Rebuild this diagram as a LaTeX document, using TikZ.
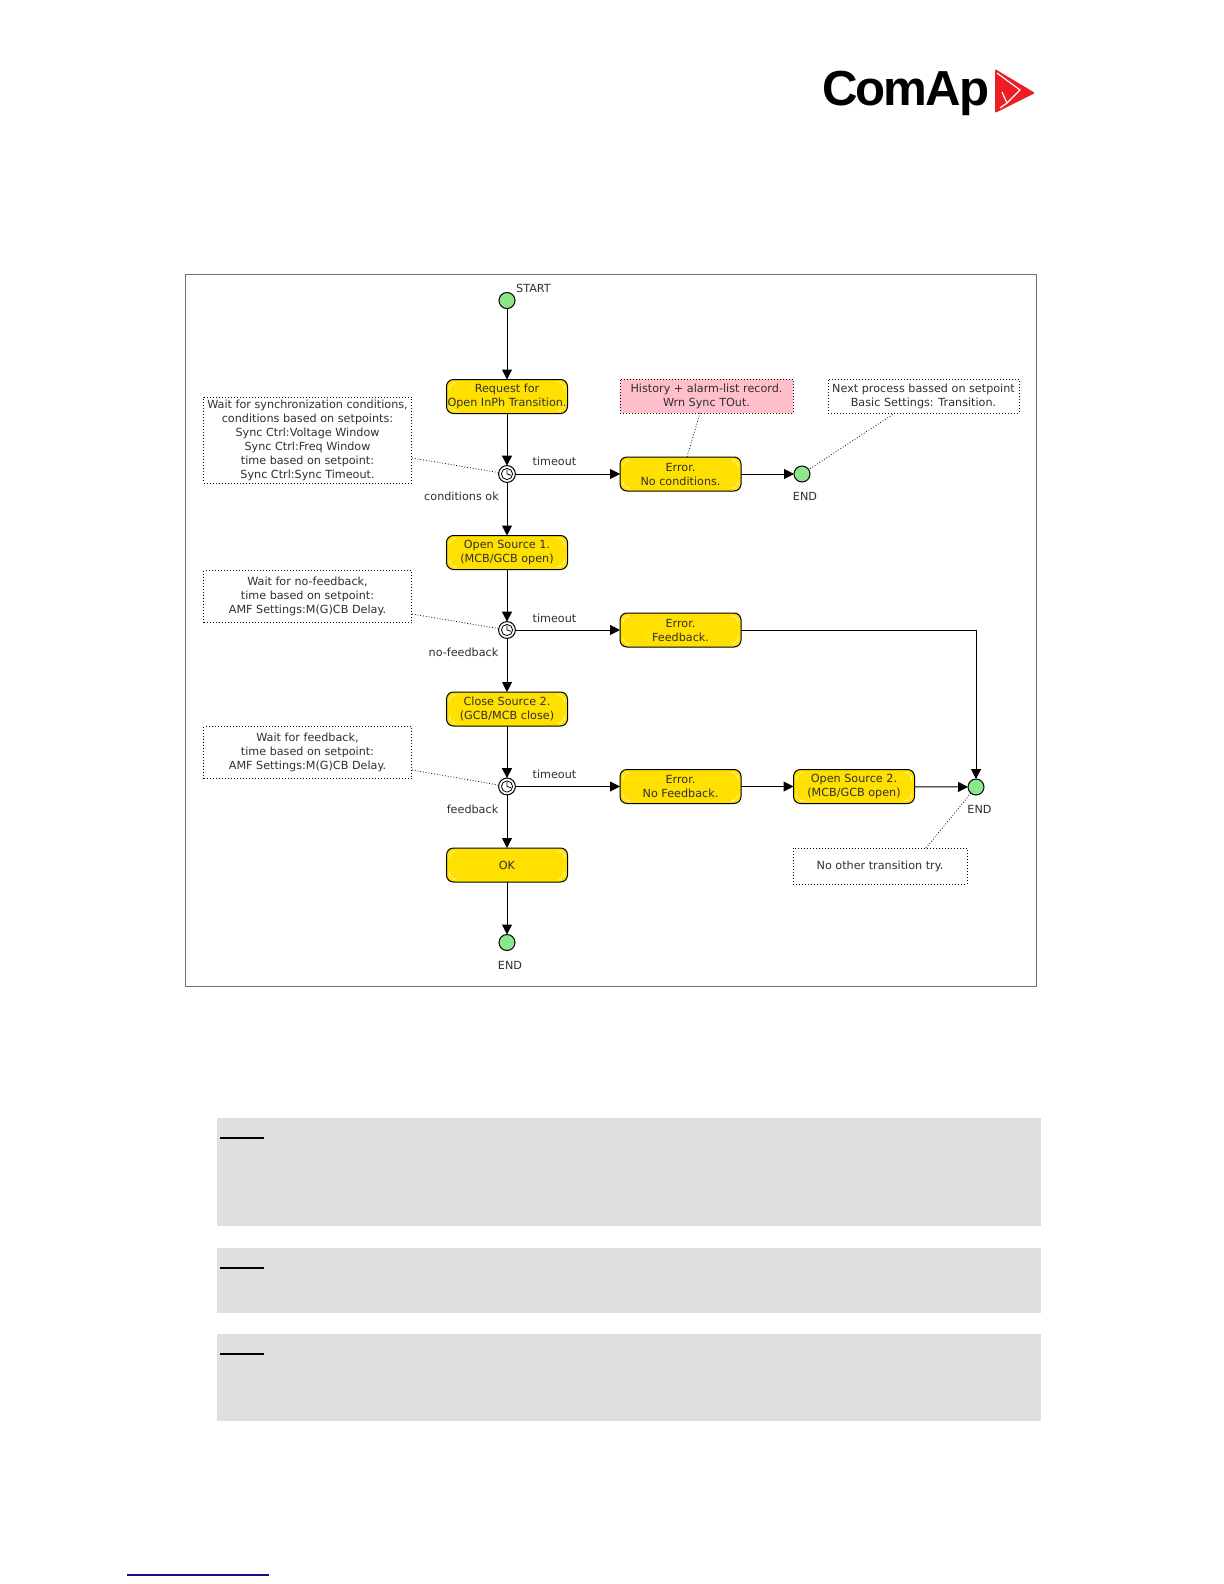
\documentclass[tikz,border=0pt]{standalone}
\usepackage{fontspec}
\setmainfont{DejaVu Sans}
\newfontfamily\logofont[LetterSpace=-4.2]{Liberation Sans}
\usetikzlibrary{arrows.meta,positioning}
\definecolor{stateyellow}{HTML}{FFE000}
\definecolor{notepink}{HTML}{FFC0CB}
\definecolor{dotgreen}{HTML}{8CE68C}
\definecolor{greyband}{HTML}{DFDFDF}
\definecolor{frameline}{HTML}{707070}
\definecolor{linkblue}{HTML}{101080}
\definecolor{logored}{HTML}{EE1C25}
\definecolor{inktext}{HTML}{303030}
\tikzset{
  diagramtext/.style={font=\fontsize{5.6}{7}\selectfont,text=inktext,align=center},
  statebox/.style={diagramtext,draw=black,line width=.5pt,fill=stateyellow,rounded corners=3.5pt,
    minimum width=60.5pt,minimum height=17pt,inner sep=0pt,outer sep=0pt,
    path picture={
      \draw[white,opacity=.7,line width=.25pt]
        ([shift={(1.5pt,-3pt)}]path picture bounding box.north west)--++(0,1.5pt)--++(1.5pt,0)
        ([shift={(-3pt,-1.5pt)}]path picture bounding box.north east)--++(1.5pt,0)--++(0,-1.5pt)
        ([shift={(1.5pt,3pt)}]path picture bounding box.south west)--++(0,-1.5pt)--++(1.5pt,0)
        ([shift={(-3pt,1.5pt)}]path picture bounding box.south east)--++(1.5pt,0)--++(0,1.5pt);
    }},
  notebox/.style={diagramtext,draw=black,densely dotted,line width=.5pt,fill=white,
    inner sep=0pt,outer sep=0pt},
  terminal/.style={circle,draw=black,line width=.5pt,fill=dotgreen,minimum size=8pt,inner sep=0pt,outer sep=0pt},
  waitdot/.style={circle,draw=black,line width=.5pt,fill=white,minimum size=8.4pt,inner sep=0pt,outer sep=0pt,
    path picture={
      \draw[line width=.4pt] (path picture bounding box.center) circle (2.8pt);
      \draw[line width=.4pt] ([yshift=2.2pt]path picture bounding box.center)--(path picture bounding box.center)--++(2pt,-.6pt);
    }},
  flow/.style={draw=black,line width=.5pt,-{Triangle[length=5pt,width=5pt]}},
  noteline/.style={draw=black,densely dotted,line width=.4pt},
  edgelabel/.style={diagramtext,inner sep=0pt},
  band/.style={fill=greyband,draw=none},
  notemark/.style={draw=black,line width=1pt}
}
\begin{document}
\begin{tikzpicture}[x=0.5pt,y=-0.5pt]
\useasboundingbox (0,0) rectangle (1224,1584);
\fill[white] (0,0) rectangle (1224,1584);

% logo
\node[anchor=base west,inner sep=0pt,font=\logofont\bfseries\fontsize{24.6}{26}\selectfont] (logotext) at (822,105) {ComAp};
\fill[logored,rounded corners=.6pt] (995,69)--(1035,93)--(995,113)--cycle;
\draw[white,line width=.6pt] (997,73)--(1020,90)--(1007,103)--(1002,92);
\draw[white,line width=.6pt] (1000,108)--(1007,103);

% frame
\draw[frameline,line width=.6pt] (185.5,274.5) rectangle (1036.5,986.5);

% states
\node[terminal] (start) at (507,300.5) {};
\node[statebox] (req) at (507,396.5) {Request for\\Open InPh Transition.};
\node[waitdot] (d1) at (507,474) {};
\node[statebox] (os1) at (507,552.5) {Open Source 1.\\(MCB/GCB open)};
\node[waitdot] (d2) at (507,630) {};
\node[statebox] (cs2) at (507,709) {Close Source 2.\\(GCB/MCB close)};
\node[waitdot] (d3) at (507,786.5) {};
\node[statebox] (ok) at (507,865) {OK};
\node[terminal] (end3) at (507,942.5) {};

\node[statebox] (e1) at (680.5,474) {Error.\\No conditions.};
\node[statebox] (e2) at (680.5,630) {Error.\\Feedback.};
\node[statebox] (e3) at (680.5,786.5) {Error.\\No Feedback.};
\node[statebox] (os2) at (854,786.5) {Open Source 2.\\(MCB/GCB open)};
\node[terminal] (end1) at (802,474) {};
\node[terminal] (end2) at (976,787) {};

% notes
\node[notebox,minimum width=104pt,minimum height=43pt] (n1) at (307.5,440)
 {Wait for synchronization conditions,\\conditions based on setpoints:\\Sync Ctrl:Voltage Window\\Sync Ctrl:Freq Window\\time based on setpoint:\\Sync Ctrl:Sync Timeout.};
\node[notebox,minimum width=104pt,minimum height=26pt] (n2) at (307.5,596.5)
 {Wait for no-feedback,\\time based on setpoint:\\AMF Settings:M(G)CB Delay.};
\node[notebox,minimum width=104pt,minimum height=26pt] (n3) at (307.5,752.5)
 {Wait for feedback,\\time based on setpoint:\\AMF Settings:M(G)CB Delay.};
\node[notebox,fill=notepink,minimum width=86.5pt,minimum height=17pt] (n4) at (706.5,396)
 {History + alarm-list record.\\Wrn Sync TOut.};
\node[notebox,minimum width=95.5pt,minimum height=17pt] (n5) at (923.5,396)
 {Next process bassed on setpoint\\Basic Settings: Transition.};
\node[notebox,minimum width=87pt,minimum height=18pt] (n6) at (880,866) {No other transition try.};

% flows
\draw[flow] (start)--(req);
\draw[flow] (req)--(d1);
\draw[flow] (d1)--(os1);
\draw[flow] (os1)--(d2);
\draw[flow] (d2)--(cs2);
\draw[flow] (cs2)--(d3);
\draw[flow] (d3)--(ok);
\draw[flow] (ok)--(end3);
\draw[flow] (d1)--(e1);
\draw[flow] (d2)--(e2);
\draw[flow] (d3)--(e3);
\draw[flow] (e1)--(end1);
\draw[flow] (e3)--(os2);
\draw[flow] (os2)--(end2);
\draw[flow] (e2)-|(end2);

% note lines
\coordinate (n1c) at (412,458);
\coordinate (n2c) at (412,614);
\coordinate (n3c) at (412,770);
\coordinate (n4c) at (700,413);
\coordinate (e1c) at (687,457);
\coordinate (n5c) at (895,413);
\coordinate (n6c) at (926,848);
\draw[noteline] (n1c)--(d1);
\draw[noteline] (n2c)--(d2);
\draw[noteline] (n3c)--(d3);
\draw[noteline] (n4c)--(e1c);
\draw[noteline] (n5c)--(end1);
\draw[noteline] (n6c)--(end2);

% labels
\node[edgelabel] (lstart) at (533.5,288) {START};
\node[edgelabel] (lt1) at (554.5,461.5) {timeout};
\node[edgelabel] (lt2) at (554.5,618) {timeout};
\node[edgelabel] (lt3) at (554.5,774) {timeout};
\node[edgelabel] (lc1) at (461.5,496) {conditions ok};
\node[edgelabel] (lc2) at (463.5,652.5) {no-feedback};
\node[edgelabel] (lc3) at (472.5,809) {feedback};
\node[edgelabel] (le1) at (805,496) {END};
\node[edgelabel] (le2) at (979.5,809) {END};
\node[edgelabel] (le3) at (510,965) {END};

% grey bands
\fill[band] (217,1118) rectangle (1041,1226);
\fill[band] (217,1248) rectangle (1041,1313);
\fill[band] (217,1334) rectangle (1041,1421);
\draw[notemark] (220,1138)--(264,1138);
\draw[notemark] (220,1268)--(264,1268);
\draw[notemark] (220,1354)--(264,1354);

% footer rule
\draw[linkblue,line width=.6pt] (127,1575)--(269,1575);
\end{tikzpicture}
\end{document}
